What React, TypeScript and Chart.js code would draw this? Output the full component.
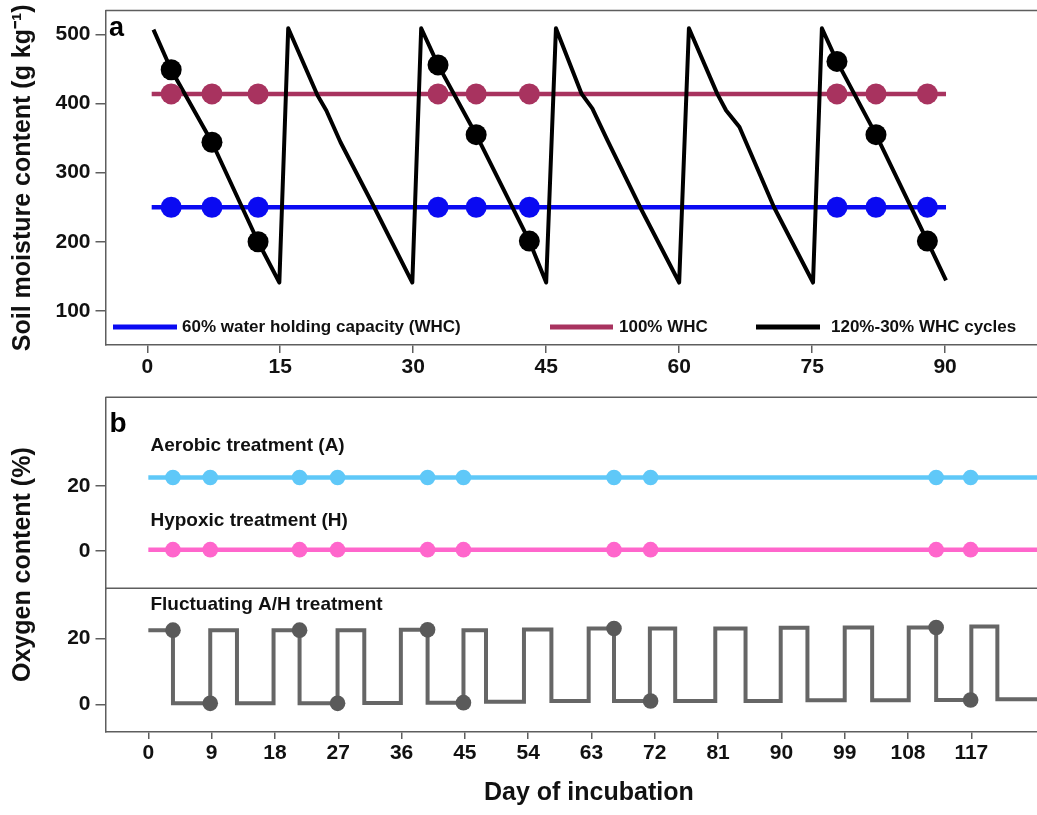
import React, { useEffect, useRef } from 'react';
import { Chart, registerables } from 'chart.js';

Chart.register(...registerables);

const FONT = "'Liberation Sans', Arial, Helvetica, sans-serif";

// ---------------- Panel a : soil moisture ----------------
const A_X_TICKS = [0, 15, 30, 45, 60, 75, 90];
const A_Y_TICKS = [100, 200, 300, 400, 500];
const A_LABELS = ['60% water holding capacity (WHC)', '100% WHC', '120%-30% WHC cycles'];
const CONST_DAYS = [0.5, 90.1];
const WHC60_LINE = [250, 250];
const WHC100_LINE = [414, 414];
const A_SAMPLE_DAYS = [2.7, 7.3, 12.5, 32.8, 37.1, 43.1, 77.8, 82.2, 88.0];
const WHC60_SAMPLES = [250, 250, 250, 250, 250, 250, 250, 250, 250];
const WHC100_SAMPLES = [414, 414, 414, 414, 414, 414, 414, 414, 414];
const CYCLE_SAMPLES = [449, 344, 200, 456, 355, 201, 461, 355, 201];
const CYCLE_DAYS = [
  0.7, 2.7, 7.3, 12.5, 14.9,
  15.9, 19.2, 20.2, 21.8, 25.6, 29.9,
  30.9, 32.8, 37.1, 43.1, 45.0,
  46.1, 49.0, 50.2, 51.9, 55.6, 60.0,
  61.1, 64.3, 65.3, 66.8, 70.7, 75.1,
  76.1, 77.8, 82.2, 88.0, 90.1,
];
const CYCLE_WHC = [
  507, 449, 344, 200, 141,
  509, 412, 390, 344, 250, 141,
  509, 456, 355, 201, 141,
  509, 414, 393, 347, 250, 141,
  509, 414, 390, 366, 250, 141,
  509, 461, 355, 201, 144,
];

// ---------------- Panel b : oxygen ----------------
const B_X_TICKS = [0, 9, 18, 27, 36, 45, 54, 63, 72, 81, 90, 99, 108, 117];
const O2_TICKS = [0, 20];
const B_LABELS = ['Aerobic treatment (A)', 'Hypoxic treatment (H)', 'Fluctuating A/H treatment'];
const CONST_O2_DAYS = [0, 131.3];
const AEROBIC_O2 = [22.6, 22.6];
const HYPOXIC_O2 = [0.4, 0.4];
const B_SAMPLE_DAYS = [3.5, 8.8, 21.5, 26.9, 39.7, 44.8, 66.2, 71.4, 112.0, 116.9];
const AEROBIC_SAMPLES = [22.6, 22.6, 22.6, 22.6, 22.6, 22.6, 22.6, 22.6, 22.6, 22.6];
const HYPOXIC_SAMPLES = [0.4, 0.4, 0.4, 0.4, 0.4, 0.4, 0.4, 0.4, 0.4, 0.4];
const FLUCT_SAMPLES = [22.5, 0.3, 22.5, 0.3, 22.6, 0.5, 23.0, 1.0, 23.3, 1.3];
const FLUCT_DAYS = [
  0, 3.5, 8.8, 12.6, 17.8, 21.5, 26.9, 30.7, 35.9, 39.7, 44.8, 48.0, 53.4, 57.3,
  62.6, 66.2, 71.3, 74.9, 80.6, 84.9, 89.9, 93.7, 99.0, 102.9, 108.1, 112.0, 117.0, 120.7, 131.3,
];
const FLUCT_O2 = [
  22.5, 0.3, 22.5, 0.3, 22.5, 0.3, 22.5, 0.4, 22.6, 0.5, 22.5, 0.8, 22.7, 1.0,
  23.0, 1.0, 23.0, 1.0, 23.0, 1.0, 23.2, 1.2, 23.3, 1.2, 23.3, 1.3, 23.6, 1.5, 1.5,
];

const BLUE = '#0a0af2';
const MAROON = '#a8335f';
const BLACK = '#000000';
const SKY = '#5fc8f8';
const PINK = '#ff66cc';
const GREY = '#666666';
const GREY_DOT = '#5a5a5a';
const AXIS = '#5e5e5e';

function pts(xs: number[], ys: number[]) {
  return xs.map((x, i) => ({ x, y: ys[i] }));
}

const fixTicks = (values: number[]) => (scale: any) => {
  scale.ticks = values.map((v) => ({ value: v }));
};

const fitY = (w: number) => (s: any) => {
  s.width = w;
  s.paddingTop = 0;
  s.paddingBottom = 0;
};
const fitX = (h: number) => (s: any) => {
  s.height = h;
  s.paddingLeft = 0;
  s.paddingRight = 0;
};

const tickFont = { family: FONT, size: 21, weight: 'bold' as const };
const titleFont = { family: FONT, size: 25, weight: 'bold' as const };

const annotPlugin = {
  id: 'annot',
  afterDraw(chart: any, _args: any, opts: any) {
    const { ctx, chartArea } = chart;
    ctx.save();
    ctx.strokeStyle = AXIS;
    ctx.lineWidth = 1.5;
    ctx.beginPath();
    ctx.moveTo(chartArea.left, chartArea.top);
    ctx.lineTo(chartArea.right, chartArea.top);
    (opts.dividers || []).forEach((id: string) => {
      const y = chart.scales[id].bottom;
      ctx.moveTo(chartArea.left, y);
      ctx.lineTo(chartArea.right, y);
    });
    ctx.stroke();

    ctx.fillStyle = '#000';
    ctx.textAlign = 'left';
    if (opts.letter) {
      ctx.font = `bold ${opts.letter.size}px ${FONT}`;
      ctx.textBaseline = 'alphabetic';
      ctx.fillText(opts.letter.text, chartArea.left + opts.letter.dx, chartArea.top + opts.letter.dy);
    }
    (opts.labels || []).forEach((l: any) => {
      ctx.font = `bold ${l.size}px ${FONT}`;
      ctx.textBaseline = 'middle';
      ctx.fillStyle = '#111';
      ctx.fillText(l.text, chart.scales.x.getPixelForValue(l.x), chart.scales[l.axis].getPixelForValue(l.y));
    });
    (opts.legend || []).forEach((it: any) => {
      const ds = chart.data.datasets[it.dataset];
      ctx.strokeStyle = ds.borderColor;
      ctx.lineWidth = it.lineWidth;
      ctx.lineCap = 'butt';
      ctx.beginPath();
      ctx.moveTo(it.x0, it.y);
      ctx.lineTo(it.x1, it.y);
      ctx.stroke();
      ctx.fillStyle = '#111';
      ctx.font = `bold ${it.size}px ${FONT}`;
      ctx.textBaseline = 'middle';
      ctx.fillText(ds.label, it.tx, it.y);
    });
    ctx.restore();
  },
};

const axisGrid = (tl: number) => ({
  display: true,
  drawOnChartArea: false,
  drawTicks: true,
  tickLength: tl,
  color: AXIS,
  lineWidth: 1.5,
});
const axisBorder = { display: true, color: AXIS, width: 1.5 };

export default function App() {
  const refA = useRef<HTMLCanvasElement>(null);
  const refB = useRef<HTMLCanvasElement>(null);

  useEffect(() => {
    const dot = (label: string, data: any, color: string, r: number, yAxisID?: string) => ({
      label,
      data,
      showLine: false,
      pointRadius: r,
      pointBorderWidth: 0,
      pointBackgroundColor: color,
      borderColor: color,
      backgroundColor: color,
      ...(yAxisID ? { yAxisID } : {}),
    });
    const line = (label: string, data: any, color: string, w: number, extra: any = {}) => ({
      label,
      data,
      borderColor: color,
      backgroundColor: color,
      borderWidth: w,
      pointRadius: 0,
      tension: 0,
      fill: false,
      ...extra,
    });

    const chartA = new Chart(refA.current as HTMLCanvasElement, {
      type: 'line',
      data: {
        datasets: [
          dot('cycle samples', pts(A_SAMPLE_DAYS, CYCLE_SAMPLES), BLACK, 10.5),
          dot('100% samples', pts(A_SAMPLE_DAYS, WHC100_SAMPLES), MAROON, 10.5),
          dot('60% samples', pts(A_SAMPLE_DAYS, WHC60_SAMPLES), BLUE, 10.5),
          line(A_LABELS[2], pts(CYCLE_DAYS, CYCLE_WHC), BLACK, 4, { borderJoinStyle: 'round' }),
          line(A_LABELS[1], pts(CONST_DAYS, WHC100_LINE), MAROON, 4.5),
          line(A_LABELS[0], pts(CONST_DAYS, WHC60_LINE), BLUE, 4.5),
        ] as any,
      },
      options: {
        responsive: false,
        animation: false,
        devicePixelRatio: 1,
        events: [],
        layout: { padding: { top: 10, left: 0, right: 0, bottom: 0 } },
        plugins: {
          legend: { display: false },
          tooltip: { enabled: false },
          annot: {
            letter: { text: 'a', size: 27, dx: 3.5, dy: 25 },
            legend: [
              { dataset: 5, x0: 113, x1: 177, tx: 182, y: 327, lineWidth: 5, size: 17 },
              { dataset: 4, x0: 550, x1: 613, tx: 619, y: 327, lineWidth: 5, size: 17 },
              { dataset: 3, x0: 756, x1: 820, tx: 831, y: 327, lineWidth: 5, size: 17 },
            ],
          },
        } as any,
        scales: {
          x: {
            type: 'linear',
            min: -4.71,
            max: 104.03,
            afterBuildTicks: fixTicks(A_X_TICKS),
            afterFit: fitX(35),
            ticks: { font: tickFont, color: '#111', padding: 2, maxRotation: 0, autoSkip: false },
            grid: axisGrid(8),
            border: axisBorder,
          },
          y: {
            type: 'linear',
            min: 50.6,
            max: 534.7,
            afterBuildTicks: fixTicks(A_Y_TICKS),
            afterFit: fitY(105.5),
            ticks: { font: tickFont, color: '#111', padding: 5 },
            grid: axisGrid(10),
            border: axisBorder,
            title: {
              display: true,
              text: 'Soil moisture content (g kg\u207B\u00B9)',
              font: titleFont,
              color: '#111',
              padding: { top: 8.4, bottom: 0 },
            },
          },
        } as any,
      },
      plugins: [annotPlugin as any],
    });

    const chartB = new Chart(refB.current as HTMLCanvasElement, {
      type: 'line',
      data: {
        datasets: [
          dot('aerobic samples', pts(B_SAMPLE_DAYS, AEROBIC_SAMPLES), SKY, 7.8, 'yTop'),
          dot('hypoxic samples', pts(B_SAMPLE_DAYS, HYPOXIC_SAMPLES), PINK, 7.8, 'yTop'),
          dot('fluctuating samples', pts(B_SAMPLE_DAYS, FLUCT_SAMPLES), GREY_DOT, 7.8, 'yBot'),
          line(B_LABELS[0], pts(CONST_O2_DAYS, AEROBIC_O2), SKY, 4.5, { yAxisID: 'yTop' }),
          line(B_LABELS[1], pts(CONST_O2_DAYS, HYPOXIC_O2), PINK, 4.5, { yAxisID: 'yTop' }),
          line(B_LABELS[2], pts(FLUCT_DAYS, FLUCT_O2), GREY, 4, { yAxisID: 'yBot', stepped: 'before' }),
        ] as any,
      },
      options: {
        responsive: false,
        animation: false,
        devicePixelRatio: 1,
        events: [],
        layout: { padding: { top: 17.3, left: 0, right: 0, bottom: 0 } },
        plugins: {
          legend: { display: false },
          tooltip: { enabled: false },
          annot: {
            dividers: ['yTop'],
            letter: { text: 'b', size: 28, dx: 4, dy: 34.4 },
            labels: [
              { text: B_LABELS[0], x: 0.3, y: 32.4, axis: 'yTop', size: 19 },
              { text: B_LABELS[1], x: 0.3, y: 9.3, axis: 'yTop', size: 19 },
              { text: B_LABELS[2], x: 0.3, y: 30.1, axis: 'yBot', size: 19 },
            ],
          },
        } as any,
        scales: {
          x: {
            type: 'linear',
            min: -6.09,
            max: 131.34,
            afterBuildTicks: fixTicks(B_X_TICKS),
            afterFit: fitX(83),
            ticks: { font: tickFont, color: '#111', padding: 2, maxRotation: 0, autoSkip: false },
            grid: axisGrid(7),
            border: axisBorder,
            title: {
              display: true,
              text: 'Day of incubation',
              font: titleFont,
              color: '#111',
              padding: { top: 0, bottom: 7 },
            },
          },
          yT: {
            type: 'linear',
            position: 'left',
            weight: 3,
            display: true,
            min: 0,
            max: 1,
            afterFit: fitY(40),
            ticks: { display: false },
            grid: { display: false },
            border: { display: false },
            title: {
              display: true,
              text: 'Oxygen content (%)',
              font: titleFont,
              color: '#111',
              padding: { top: 8.4, bottom: 0 },
            },
          },
          yTop: {
            type: 'linear',
            position: 'left',
            weight: 2,
            stack: 'o2',
            stackWeight: 191,
            min: -11.5,
            max: 47.3,
            afterBuildTicks: fixTicks(O2_TICKS),
            afterFit: fitY(65.5),
            ticks: { font: tickFont, color: '#111', padding: 5 },
            grid: axisGrid(10),
            border: axisBorder,
          },
          yBot: {
            type: 'linear',
            position: 'left',
            weight: 1,
            stack: 'o2',
            stackWeight: 143.7,
            min: -8.4,
            max: 35.2,
            afterBuildTicks: fixTicks(O2_TICKS),
            afterFit: fitY(65.5),
            ticks: { font: tickFont, color: '#111', padding: 5 },
            grid: axisGrid(10),
            border: axisBorder,
          },
        } as any,
      },
      plugins: [annotPlugin as any],
    });

    return () => {
      chartA.destroy();
      chartB.destroy();
    };
  }, []);

  return (
    <div
      style={{
        position: 'absolute',
        left: 0,
        top: 0,
        width: 1037,
        height: 815,
        overflow: 'hidden',
        background: '#fff',
      }}
    >
      <canvas
        ref={refA}
        width={1080}
        height={380}
        style={{ position: 'absolute', left: 0, top: 0, width: 1080, height: 380 }}
      />
      <canvas
        ref={refB}
        width={1080}
        height={435}
        style={{ position: 'absolute', left: 0, top: 380, width: 1080, height: 435 }}
      />
    </div>
  );
}
